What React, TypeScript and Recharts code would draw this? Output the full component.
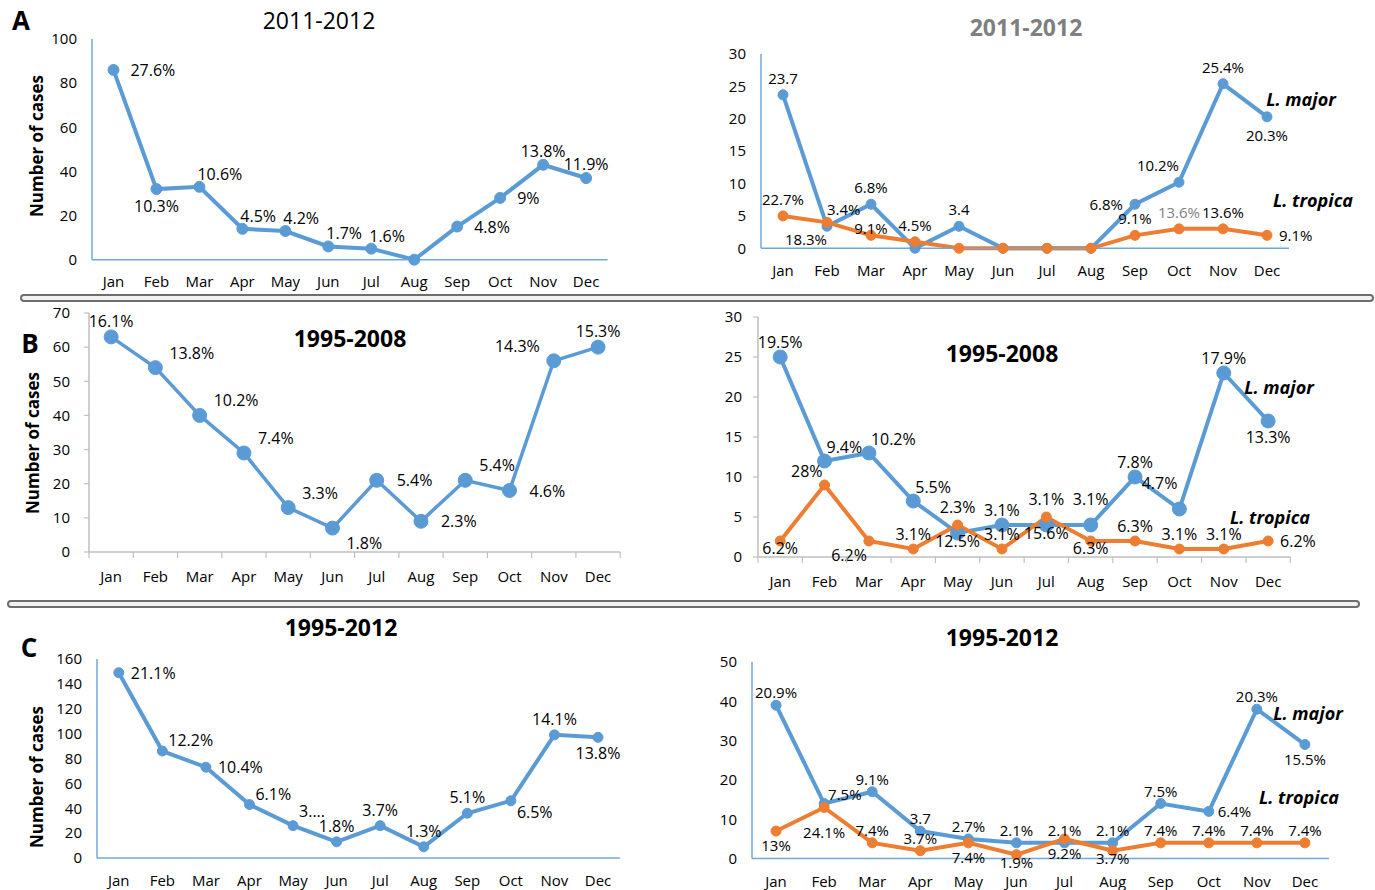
import React from 'react';
import { LineChart, Line, XAxis, YAxis } from 'recharts';

// ---------- shared ----------
const months = ['Jan', 'Feb', 'Mar', 'Apr', 'May', 'Jun', 'Jul', 'Aug', 'Sep', 'Oct', 'Nov', 'Dec'];
const FONT = "'Open Sans', 'Noto Sans', 'DejaVu Sans', sans-serif";
const BLUE = '#5B9BD5';
const ORANGE = '#ED7D31';
const AXIS_BLUE = '#6FA8DC';
const AXIS_GREY = '#BFBFBF';

// ---------- Panel A (2011-2012) ----------
const aTitle = '2011-2012';
const aYTicks = [0, 20, 40, 60, 80, 100];
const aCases = [86, 32, 33, 14, 13, 6, 5, 0, 15, 28, 43, 37];
const aCasesLabels = ['27.6%', '10.3%', '10.6%', '4.5%', '4.2%', '1.7%', '1.6%', '', '4.8%', '9%', '13.8%', '11.9%'];
const aCasesPos = ['R', 'B', 'TR', 'TR', 'TR', 'TR', 'TR', '', 'R', 'R', 'T', 'T'];

const aSpeciesYTicks = [0, 5, 10, 15, 20, 25, 30];
const aMajor = [23.7, 3.4, 6.8, 0, 3.4, 0, 0, 0, 6.8, 10.2, 25.4, 20.3];
const aMajorLabels = ['23.7', '3.4%', '6.8%', '', '3.4', '', '', '', '6.8%', '10.2%', '25.4%', '20.3%'];
const aMajorPos = ['T', 'TR', 'T', '', 'T', '', '', '', 'L', 'TL', 'T', 'B'];
const aTropica = [5, 4, 2, 1, 0, 0, 0, 0, 2, 3, 3, 2];
const aTropicaLabels = ['22.7%', '18.3%', '9.1%', '4.5%', '', '', '', '', '9.1%', '13.6%', '13.6%', '9.1%'];
const aTropicaPos = ['T', 'BL', 'T1', 'T', '', '', '', '', 'T', 'T', 'T', 'R'];
const aTropicaMuted = [9];

// ---------- Panel B (1995-2008) ----------
const bTitle = '1995-2008';
const bYTicks = [0, 10, 20, 30, 40, 50, 60, 70];
const bCases = [63, 54, 40, 29, 13, 7, 21, 9, 21, 18, 56, 60];
const bCasesLabels = ['16.1%', '13.8%', '10.2%', '7.4%', '3.3%', '1.8%', '5.4%', '2.3%', '5.4%', '4.6%', '14.3%', '15.3%'];
const bCasesPos = ['T', 'TR', 'TR', 'TR', 'TR', 'BR', 'R', 'R', 'TR', 'R', 'TL', 'T'];

const bSpeciesYTicks = [0, 5, 10, 15, 20, 25, 30];
const bMajor = [25, 12, 13, 7, 3, 4, 4, 4, 10, 6, 23, 17];
const bMajorLabels = ['19.5%', '9.4%', '10.2%', '5.5%', '2.3%', '3.1%', '3.1%', '3.1%', '7.8%', '4.7%', '17.9%', '13.3%'];
const bMajorPos = ['T', 'TR', 'TR', 'TR', 'T2', 'T', 'T2', 'T2', 'T', 'TL2', 'T', 'B'];
const bTropica = [2, 9, 2, 1, 4, 1, 5, 2, 2, 1, 1, 2];
const bTropicaLabels = ['6.2%', '28%', '6.2%', '3.1%', '12.5%', '3.1%', '15.6%', '6.3%', '6.3%', '3.1%', '3.1%', '6.2%'];
const bTropicaPos = ['B1', 'TL', 'BL', 'T', 'B', 'T', 'B', 'B1', 'T', 'T', 'T', 'R'];

// ---------- Panel C (1995-2012) ----------
const cTitle = '1995-2012';
const cYTicks = [0, 20, 40, 60, 80, 100, 120, 140, 160];
const cCases = [149, 86, 73, 43, 26, 13, 26, 9, 36, 46, 99, 97];
const cCasesLabels = ['21.1%', '12.2%', '10.4%', '6.1%', '3....', '1.8%', '3.7%', '1.3%', '5.1%', '6.5%', '14.1%', '13.8%'];
const cCasesPos = ['R', 'TR', 'R', 'TR', 'TR2', 'T', 'T', 'T', 'T', 'BR', 'T', 'B'];

const cSpeciesYTicks = [0, 10, 20, 30, 40, 50];
const cMajor = [39, 14, 17, 7, 5, 4, 4, 4, 14, 12, 38, 29];
const cMajorLabels = ['20.9%', '7.5%', '9.1%', '3.7', '2.7%', '2.1%', '2.1%', '2.1%', '7.5%', '6.4%', '20.3%', '15.5%'];
const cMajorPos = ['T', 'TR', 'T', 'T', 'T', 'T', 'T', 'T', 'T', 'R', 'T', 'B'];
const cTropica = [7, 13, 4, 2, 4, 1, 5, 2, 4, 4, 4, 4];
const cTropicaLabels = ['13%', '24.1%', '7.4%', '3.7%', '7.4%', '1.9%', '9.2%', '3.7%', '7.4%', '7.4%', '7.4%', '7.4%'];
const cTropicaPos = ['B', 'B2', 'T', 'T', 'B', 'B1', 'B', 'B1', 'T', 'T', 'T', 'T'];

const speciesNames = ['L. major', 'L. tropica'];
const yAxisTitle = 'Number of cases';

// ---------- rendering helpers ----------
type LabelParams = { tv: number; bv: number; dv: number; far: number; side: number; diag: number; size: number };
type Series = {
  values: number[];
  labels: string[];
  pos: string[];
  color: string;
  r: number;
  width: number;
  muted?: number[];
};

function placeLabel(code: string, cx: number, cy: number, p: LabelParams) {
  const v = code.includes('T') ? -1 : code.includes('B') ? 1 : 0;
  const h = code.includes('R') ? 1 : code.includes('L') ? -1 : 0;
  const far = code.includes('2');
  const near = code.includes('1');
  const vert = far ? p.far : near ? 7 : 0;
  let dx = 0;
  let dy = 0;
  let anchor: 'start' | 'middle' | 'end' = 'middle';
  if (h === 0) {
    dy = v < 0 ? -(vert || p.tv) : vert || p.bv;
  } else if (v === 0) {
    dx = h * p.side;
    anchor = h > 0 ? 'start' : 'end';
  } else {
    dx = h * p.diag;
    dy = v * (vert || p.dv);
    anchor = h > 0 ? 'start' : 'end';
  }
  return { x: cx + dx, y: cy + dy, anchor };
}

type PanelProps = {
  plotLeft: number;
  plotRight: number;
  plotTop: number;
  plotBottom: number;
  yTicks: number[];
  series: Series[];
  axisColor: string;
  boundaryTicks: boolean;
  yTickSize: number;
  yTickMargin: number;
  xLabelDy: number;
  lp: LabelParams;
};

const TICK_SIZE = 15;

function Panel(p: PanelProps) {
  const YW = 60;
  const MT = 40;
  const MR = 80;
  const XH = 40;
  const plotW = p.plotRight - p.plotLeft;
  const plotH = p.plotBottom - p.plotTop;
  const band = plotW / months.length;
  const data = months.map((m, i) => {
    const row: Record<string, any> = { m };
    p.series.forEach((s, k) => {
      row['v' + k] = s.values[i];
    });
    return row;
  });
  const yMax = p.yTicks[p.yTicks.length - 1];

  const monthTick = (tp: any) => {
    const { x, y, payload, index } = tp;
    return (
      <g key={`mt-${index}`}>
        <text
          x={x}
          y={y + p.xLabelDy}
          textAnchor="middle"
          dominantBaseline="central"
          fontSize={TICK_SIZE}
          fontFamily={FONT}
          fill="#000"
        >
          {payload.value}
        </text>
        {p.boundaryTicks && (
          <line x1={x + band / 2} x2={x + band / 2} y1={y} y2={y + 6} stroke={p.axisColor} strokeWidth={1.2} />
        )}
        {p.boundaryTicks && index === 0 && (
          <line x1={x - band / 2} x2={x - band / 2} y1={y} y2={y + 6} stroke={p.axisColor} strokeWidth={1.2} />
        )}
      </g>
    );
  };

  const labelDot = (s: Series) => (dp: any) => {
    const { cx, cy, index } = dp;
    const text = s.labels[index];
    const code = s.pos[index];
    if (!text || !code || cx == null || cy == null) return <g key={`lb-${index}`} />;
    const pl = placeLabel(code, cx, cy, p.lp);
    const muted = s.muted && s.muted.includes(index);
    return (
      <text
        key={`lb-${index}`}
        x={pl.x}
        y={pl.y}
        textAnchor={pl.anchor}
        dominantBaseline="central"
        fontSize={p.lp.size}
        fontFamily={FONT}
        fill={muted ? '#7F7F7F' : '#000'}
      >
        {text}
      </text>
    );
  };

  return (
    <div style={{ position: 'absolute', left: p.plotLeft - YW, top: p.plotTop - MT }}>
      <LineChart
        width={YW + plotW + MR}
        height={MT + plotH + XH}
        data={data}
        margin={{ top: MT, right: MR, bottom: 0, left: 0 }}
      >
        <XAxis
          dataKey="m"
          scale="band"
          interval={0}
          height={XH}
          axisLine={{ stroke: p.axisColor, strokeWidth: 1.5 }}
          tickLine={false}
          tickSize={0}
          tickMargin={0}
          tick={monthTick}
        />
        <YAxis
          type="number"
          domain={[0, yMax]}
          ticks={p.yTicks}
          interval={0}
          width={YW}
          axisLine={{ stroke: p.axisColor, strokeWidth: 1.5 }}
          tickLine={p.yTickSize > 0 ? { stroke: p.axisColor, strokeWidth: 1.2 } : false}
          tickSize={p.yTickSize}
          tickMargin={p.yTickMargin}
          tick={{ fontSize: TICK_SIZE, fill: '#000', fontFamily: FONT }}
        />
        {p.series.map((s, k) => (
          <Line
            key={'line' + k}
            type="linear"
            dataKey={'v' + k}
            stroke={s.color}
            strokeWidth={s.width}
            dot={{ r: s.r, fill: s.color, stroke: s.color, strokeWidth: 1 }}
            activeDot={false}
            isAnimationActive={false}
            legendType="none"
          />
        ))}
        {p.series.map((s, k) => (
          <Line
            key={'lbl' + k}
            type="linear"
            dataKey={'v' + k}
            stroke="none"
            strokeWidth={0}
            dot={labelDot(s)}
            activeDot={false}
            isAnimationActive={false}
            legendType="none"
          />
        ))}
      </LineChart>
    </div>
  );
}

const txt = (x: number, y: number, s: string, size: number, opts: any = {}) => (
  <text
    x={x}
    y={y}
    textAnchor="middle"
    dominantBaseline="central"
    fontSize={size}
    fontFamily={FONT}
    fill={opts.fill || '#000'}
    fontWeight={opts.bold ? 700 : 400}
    fontStyle={opts.italic ? 'italic' : 'normal'}
    transform={opts.rotate ? `rotate(-90 ${x} ${y})` : undefined}
  >
    {s}
  </text>
);

export default function App() {
  return (
    <div
      style={{
        position: 'absolute',
        left: 0,
        top: 0,
        width: 1375,
        height: 890,
        overflow: 'hidden',
        background: '#fff',
      }}
    >
      {/* A left */}
      <Panel
        plotLeft={92.4}
        plotRight={608}
        plotTop={39.3}
        plotBottom={260}
        yTicks={aYTicks}
        axisColor={AXIS_BLUE}
        boundaryTicks={false}
        yTickSize={0}
        yTickMargin={15}
        xLabelDy={21}
        lp={{ tv: 14, bv: 17, dv: 13, far: 24, side: 17, diag: -2, size: 16 }}
        series={[{ values: aCases, labels: aCasesLabels, pos: aCasesPos, color: BLUE, r: 5.5, width: 4 }]}
      />
      {/* A right */}
      <Panel
        plotLeft={761}
        plotRight={1289}
        plotTop={54}
        plotBottom={248.3}
        yTicks={aSpeciesYTicks}
        axisColor={AXIS_BLUE}
        boundaryTicks={false}
        yTickSize={0}
        yTickMargin={15}
        xLabelDy={21.5}
        lp={{ tv: 17, bv: 18, dv: 17, far: 26, side: 12, diag: 0, size: 15 }}
        series={[
          { values: aMajor, labels: aMajorLabels, pos: aMajorPos, color: BLUE, r: 5, width: 4 },
          {
            values: aTropica,
            labels: aTropicaLabels,
            pos: aTropicaPos,
            color: ORANGE,
            r: 5,
            width: 4,
            muted: aTropicaMuted,
          },
        ]}
      />
      {/* B left */}
      <Panel
        plotLeft={89.3}
        plotRight={620.5}
        plotTop={312.7}
        plotBottom={551.7}
        yTicks={bYTicks}
        axisColor={AXIS_GREY}
        boundaryTicks={true}
        yTickSize={5}
        yTickMargin={14}
        xLabelDy={24}
        lp={{ tv: 16, bv: 16, dv: 15, far: 26, side: 20, diag: 14, size: 16 }}
        series={[{ values: bCases, labels: bCasesLabels, pos: bCasesPos, color: BLUE, r: 7, width: 3.5 }]}
      />
      {/* B right */}
      <Panel
        plotLeft={757.7}
        plotRight={1290}
        plotTop={316.7}
        plotBottom={556.7}
        yTicks={bSpeciesYTicks}
        axisColor={AXIS_GREY}
        boundaryTicks={true}
        yTickSize={5}
        yTickMargin={11}
        xLabelDy={24}
        lp={{ tv: 15, bv: 16, dv: 14, far: 26, side: 12, diag: 2, size: 16 }}
        series={[
          { values: bMajor, labels: bMajorLabels, pos: bMajorPos, color: BLUE, r: 7, width: 4 },
          { values: bTropica, labels: bTropicaLabels, pos: bTropicaPos, color: ORANGE, r: 5, width: 4 },
        ]}
      />
      {/* C left */}
      <Panel
        plotLeft={96.8}
        plotRight={619.6}
        plotTop={659.3}
        plotBottom={858.3}
        yTicks={cYTicks}
        axisColor={AXIS_BLUE}
        boundaryTicks={false}
        yTickSize={0}
        yTickMargin={15}
        xLabelDy={22}
        lp={{ tv: 16, bv: 16, dv: 11, far: 15, side: 12, diag: 6, size: 16 }}
        series={[{ values: cCases, labels: cCasesLabels, pos: cCasesPos, color: BLUE, r: 5, width: 4 }]}
      />
      {/* C right */}
      <Panel
        plotLeft={752}
        plotRight={1329}
        plotTop={661.7}
        plotBottom={858.3}
        yTicks={cSpeciesYTicks}
        axisColor={AXIS_BLUE}
        boundaryTicks={false}
        yTickSize={0}
        yTickMargin={15}
        xLabelDy={22.5}
        lp={{ tv: 13, bv: 14, dv: 10, far: 25, side: 9, diag: 4, size: 15 }}
        series={[
          { values: cMajor, labels: cMajorLabels, pos: cMajorPos, color: BLUE, r: 5, width: 4 },
          { values: cTropica, labels: cTropicaLabels, pos: cTropicaPos, color: ORANGE, r: 5, width: 4 },
        ]}
      />

      {/* overlay: titles, letters, separators, series names */}
      <svg
        width={1375}
        height={890}
        style={{ position: 'absolute', left: 0, top: 0, pointerEvents: 'none' }}
      >
        <rect x={21} y={295} width={1352} height={6} rx={3} fill="#f2f2f2" stroke="#6e6e6e" strokeWidth={2} />
        <rect x={8} y={601} width={1351} height={6} rx={3} fill="#f2f2f2" stroke="#6e6e6e" strokeWidth={2} />

        {txt(21, 20, 'A', 26, { bold: true })}
        {txt(30, 343, 'B', 26, { bold: true })}
        {txt(29, 647, 'C', 26, { bold: true })}

        {txt(319, 20, aTitle, 23)}
        {txt(1026, 27, aTitle, 23, { bold: true, fill: '#7F7F7F' })}
        {txt(350, 338, bTitle, 23, { bold: true })}
        {txt(1002, 353, bTitle, 23, { bold: true })}
        {txt(341, 627, cTitle, 23, { bold: true })}
        {txt(1002, 637, cTitle, 23, { bold: true })}

        {txt(36, 146, yAxisTitle, 17, { bold: true, rotate: true })}
        {txt(32, 443, yAxisTitle, 17, { bold: true, rotate: true })}
        {txt(36, 777, yAxisTitle, 17, { bold: true, rotate: true })}

        {txt(1301, 99, speciesNames[0], 18, { bold: true, italic: true })}
        {txt(1313, 200, speciesNames[1], 18, { bold: true, italic: true })}
        {txt(1279, 387, speciesNames[0], 18, { bold: true, italic: true })}
        {txt(1270, 517, speciesNames[1], 18, { bold: true, italic: true })}
        {txt(1308, 713, speciesNames[0], 18, { bold: true, italic: true })}
        {txt(1299, 797, speciesNames[1], 18, { bold: true, italic: true })}
      </svg>
    </div>
  );
}
